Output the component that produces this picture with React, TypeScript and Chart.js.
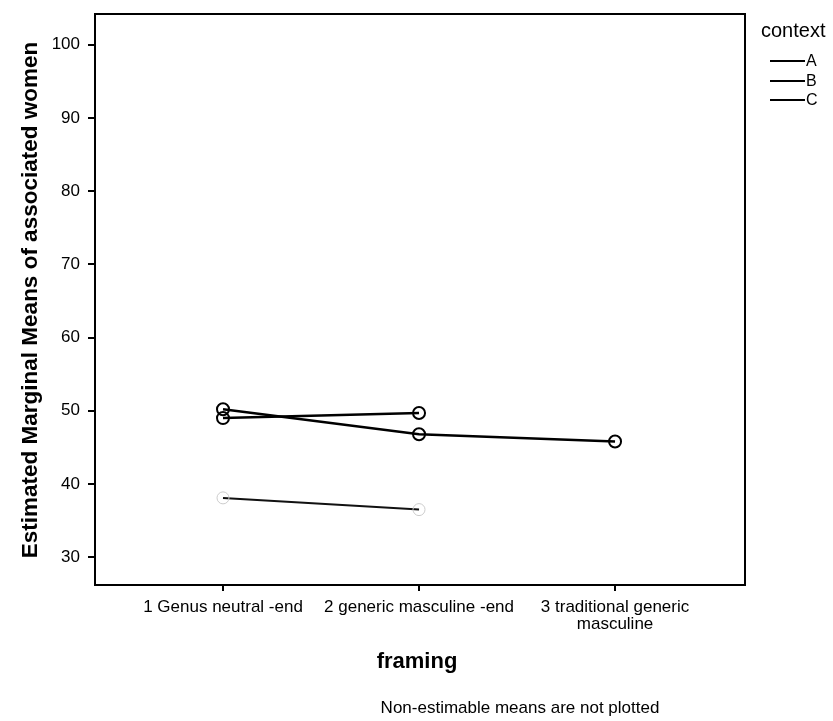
import React, { useEffect, useRef } from "react";
import { Chart, registerables } from "chart.js";

Chart.register(...registerables);

// ---- data ----
const categories: (string | string[])[] = [
  "1 Genus neutral -end",
  "2 generic masculine -end",
  ["3 traditional generic", "masculine"],
];
const categoryPositions = [1, 2, 3];
const seriesNames = ["A", "B", "C"];
const contextA: (number | null)[] = [38.1, 36.5, null];
const contextB: (number | null)[] = [49.0, 49.7, null];
const contextC: (number | null)[] = [50.2, 46.8, 45.8];
const yTickValues = [30, 40, 50, 60, 70, 80, 90, 100];

const xTitle = "framing";
const yTitle = "Estimated Marginal Means of associated women";
const legendTitle = "context";
const footnote = "Non-estimable means are not plotted";

const FONT = "'Liberation Sans', Arial, Helvetica, sans-serif";

function toPoints(vals: (number | null)[]) {
  return vals
    .map((v, i) => (v == null ? null : { x: categoryPositions[i], y: v }))
    .filter((p) => p !== null) as { x: number; y: number }[];
}

const overlayPlugin = {
  id: "overlay",
  afterDraw(chart: any) {
    const { ctx } = chart;
    const { left, right, top, bottom } = chart.chartArea;
    ctx.save();
    // frame top & right
    ctx.strokeStyle = "#000";
    ctx.lineWidth = 2;
    ctx.beginPath();
    ctx.moveTo(left - 1, top);
    ctx.lineTo(right, top);
    ctx.lineTo(right, bottom + 1);
    ctx.stroke();

    ctx.fillStyle = "#000";
    // y title
    ctx.save();
    ctx.translate(31, 300);
    ctx.rotate(-Math.PI / 2);
    ctx.font = `bold 22.5px ${FONT}`;
    ctx.textAlign = "center";
    ctx.textBaseline = "middle";
    ctx.fillText(yTitle, 0, 0);
    ctx.restore();

    // x title
    ctx.font = `bold 22px ${FONT}`;
    ctx.textAlign = "center";
    ctx.textBaseline = "middle";
    ctx.fillText(xTitle, 417, 662);

    // footnote
    ctx.font = `17px ${FONT}`;
    ctx.fillText(footnote, 520, 708);

    // legend
    ctx.textAlign = "left";
    ctx.textBaseline = "alphabetic";
    ctx.font = `20px ${FONT}`;
    ctx.fillText(legendTitle, 761, 37);
    ctx.font = `16px ${FONT}`;
    ctx.textBaseline = "middle";
    const ys = [61, 81, 100];
    seriesNames.forEach((n, i) => {
      ctx.beginPath();
      ctx.lineWidth = 2;
      ctx.moveTo(770, ys[i]);
      ctx.lineTo(805, ys[i]);
      ctx.stroke();
      ctx.fillText(n, 806, ys[i] + 1);
    });
    ctx.restore();
  },
};

export default function App() {
  const canvasRef = useRef<HTMLCanvasElement | null>(null);

  useEffect(() => {
    if (!canvasRef.current) return;
    const chart = new Chart(canvasRef.current, {
      type: "line",
      data: {
        datasets: [
          {
            label: seriesNames[0],
            data: toPoints(contextA),
            borderColor: "#111",
            borderWidth: 2,
            pointRadius: 6,
            pointBorderWidth: 1,
            pointBorderColor: "#ccc",
            pointBackgroundColor: "transparent",
            pointStyle: "circle",
          },
          {
            label: seriesNames[1],
            data: toPoints(contextB),
            borderColor: "#000",
            borderWidth: 2.5,
            pointRadius: 6,
            pointBorderWidth: 2,
            pointBorderColor: "#000",
            pointBackgroundColor: "transparent",
          },
          {
            label: seriesNames[2],
            data: toPoints(contextC),
            borderColor: "#000",
            borderWidth: 2.5,
            pointRadius: 6,
            pointBorderWidth: 2,
            pointBorderColor: "#000",
            pointBackgroundColor: "transparent",
          },
        ],
      },
      options: {
        responsive: false,
        animation: false,
        layout: { padding: { left: 0, right: 88, top: 14, bottom: 0 } },
        plugins: {
          legend: { display: false },
          tooltip: { enabled: false },
        },
        scales: {
          x: {
            type: "linear",
            min: 0.347,
            max: 3.663,
            afterBuildTicks: (s: any) => {
              s.ticks = categoryPositions.map((v) => ({ value: v }));
            },
            afterFit: (s: any) => {
              s.height = 136;
              s.paddingLeft = 0;
              s.paddingRight = 0;
            },
            ticks: {
              callback: (v: any) => categories[Math.round(v) - 1],
              color: "#000",
              font: { family: FONT, size: 17, lineHeight: 1 },
              padding: 8,
              maxRotation: 0,
              minRotation: 0,
              autoSkip: false,
            },
            grid: {
              drawOnChartArea: false,
              tickLength: 6,
              color: "#000",
              lineWidth: 2,
            },
            border: { color: "#000", width: 2 },
          },
          y: {
            type: "linear",
            min: 26.2,
            max: 104.2,
            afterBuildTicks: (s: any) => {
              s.ticks = yTickValues.map((v) => ({ value: v }));
            },
            afterFit: (s: any) => {
              s.width = 95;
              s.paddingTop = 0;
              s.paddingBottom = 0;
            },
            ticks: {
              color: "#000",
              font: { family: FONT, size: 17 },
              padding: 8,
            },
            grid: {
              drawOnChartArea: false,
              tickLength: 7,
              color: "#000",
              lineWidth: 2,
            },
            border: { color: "#000", width: 2 },
          },
        },
      },
      plugins: [overlayPlugin],
    } as any);
    return () => chart.destroy();
  }, []);

  return (
    <div style={{ position: "absolute", left: 0, top: 0, width: 833, height: 721, background: "#fff" }}>
      <canvas ref={canvasRef} width={833} height={721} />
    </div>
  );
}
